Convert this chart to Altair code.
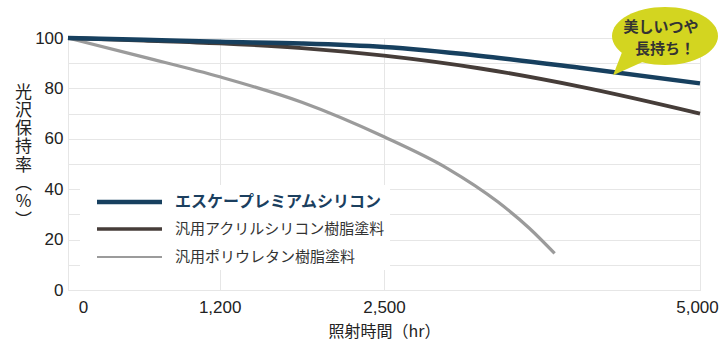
import altair as alt
import pandas as pd

# ---- data ----
series = ["エスケープレミアムシリコン", "汎用アクリルシリコン樹脂塗料", "汎用ポリウレタン樹脂塗料"]
colors = ["#17405f", "#463d39", "#9b9b9b"]
widths = [4.5, 3.2, 3.0]
legend_widths = [4.5, 3.5, 2.2]

hours_premium = [0, 600, 1200, 1850, 2500, 3250, 4050, 5000]
gloss_premium = [100, 99.3, 98.5, 97.8, 96.4, 93.0, 88.2, 82.0]

hours_acryl = [0, 600, 1200, 1850, 2500, 3250, 4050, 5000]
gloss_acryl = [100, 99.0, 97.9, 96.0, 93.0, 88.0, 80.7, 70.0]

hours_urethane = [0, 600, 1200, 1850, 2500, 3000, 3400, 3650, 3850]
gloss_urethane = [100, 92.4, 84.6, 74.5, 60.8, 48.3, 35.0, 24.5, 14.5]

x_ticks = [0, 1200, 2500, 5000]
y_ticks = [0, 10, 20, 30, 40, 50, 60, 70, 80, 90, 100]
y_title = ["光", "沢", "保", "持", "率", "︵", "%", "︶"]
x_title = "照射時間（hr）"
bubble_lines = ["美しいつや", "長持ち！"]

NUM_FONT = "Liberation Sans, Arial, sans-serif"
JP_FONT = "'Noto Sans CJK JP', sans-serif"

rows = []
for name, ts, vs in [(series[2], hours_urethane, gloss_urethane),
                     (series[1], hours_acryl, gloss_acryl),
                     (series[0], hours_premium, gloss_premium)]:
    for t, v in zip(ts, vs):
        rows.append({"series": name, "t": t, "v": v})
df = pd.DataFrame(rows)

lines = alt.Chart(df).mark_line(interpolate="monotone", strokeCap="butt").encode(
    x=alt.X("t:Q", scale=alt.Scale(domain=[0, 5000], nice=False),
            axis=alt.Axis(values=x_ticks, format=",.0f", title=x_title,
                          labelFont=NUM_FONT, labelFontSize=17, labelColor="#222",
                          labelPadding=9, labelBaseline="top", labelFlush=False,
                          labelOffset={"expr": "datum.value == 0 ? 15 : (datum.value == 5000 ? -3 : 0)"},
                          titleFont=JP_FONT, titleFontSize=16, titleFontWeight="normal",
                          titleColor="#222", titleY=41, titleBaseline="middle",
                          grid=True, gridColor="#e6e6e6", gridWidth=1,
                          domain=False, ticks=False, tickSize=0)),
    y=alt.Y("v:Q", scale=alt.Scale(domain=[0, 100], nice=False),
            axis=alt.Axis(values=y_ticks, labelExpr="datum.value % 20 == 0 ? datum.label : ''",
                          labelFont=NUM_FONT, labelFontSize=17, labelColor="#222",
                          labelPadding=5,
                          title=y_title, titleAngle=0, titleFont=JP_FONT, titleFontSize=17,
                          titleFontWeight="normal", titleColor="#222",
                          titleLineHeight=18.3, titleX=-45, titleY=46,
                          titleAlign="center", titleBaseline="top",
                          grid=True, gridColor="#e6e6e6", gridWidth=1,
                          domain=False, ticks=False, tickSize=0)),
    color=alt.Color("series:N", scale=alt.Scale(domain=series, range=colors), legend=None),
    strokeWidth=alt.StrokeWidth("series:N", scale=alt.Scale(domain=series, range=widths),
                                legend=None),
)

layers = [lines]

# legend background
leg_df = pd.DataFrame({"label": series})
layers.append(alt.Chart(leg_df.head(1)).mark_rect(color="white", opacity=1).encode(
    x=alt.value(12), x2=alt.value(322), y=alt.value(147), y2=alt.value(232)))

leg_y = [164, 191, 219]
for i, name in enumerate(series):
    d = pd.DataFrame({"label": [name]})
    layers.append(alt.Chart(d).mark_rule(color=colors[i], strokeWidth=legend_widths[i]).encode(
        x=alt.value(29), x2=alt.value(94), y=alt.value(leg_y[i])))
    if i == 0:
        txt = alt.Chart(d).mark_text(align="left", baseline="middle", font=JP_FONT,
                                     fontSize=16, fontWeight="bold", color="#1b3f5f")
    else:
        txt = alt.Chart(d).mark_text(align="left", baseline="middle", font=JP_FONT,
                                     fontSize=15, color="#333333")
    layers.append(txt.encode(x=alt.value(107), y=alt.value(leg_y[i]), text="label:N"))

# speech bubble
ELLIPSE = ("M 1 0 C 1 0.302 0.5523 0.547 0 0.547 C -0.5523 0.547 -1 0.302 -1 0 "
           "C -1 -0.302 -0.5523 -0.547 0 -0.547 C 0.5523 -0.547 1 -0.302 1 0 Z")
TAIL = "M -0.80 0.28 L -0.98 0.74 L -0.36 0.46 Z"
bub = pd.DataFrame({"k": [0]})
for shp in [ELLIPSE, TAIL]:
    layers.append(alt.Chart(bub).mark_point(shape=shp, size=106 ** 2, filled=True,
                                            color="#d3d520", opacity=1, strokeWidth=0).encode(
        x=alt.value(597), y=alt.value(-2)))
bl = pd.DataFrame({"t": bubble_lines})
layers.append(alt.Chart(bl.head(1)).mark_text(font=JP_FONT, fontSize=15, fontWeight="bold",
                                              color="#333333", baseline="middle").encode(
    x=alt.value(593), y=alt.value(-11), text="t:N"))
layers.append(alt.Chart(bl.tail(1)).mark_text(font=JP_FONT, fontSize=15, fontWeight="bold",
                                              color="#333333", baseline="middle").encode(
    x=alt.value(597), y=alt.value(10.5), text="t:N"))

chart = alt.layer(*layers).properties(
    width=632, height=252,
    autosize=alt.AutoSizeParams(type="none"),
    padding={"left": 68, "top": 38, "right": 20, "bottom": 64},
).configure_view(stroke=None).configure(background="white")

chart.save("out.html", embed_options={"renderer": "svg", "actions": False})
